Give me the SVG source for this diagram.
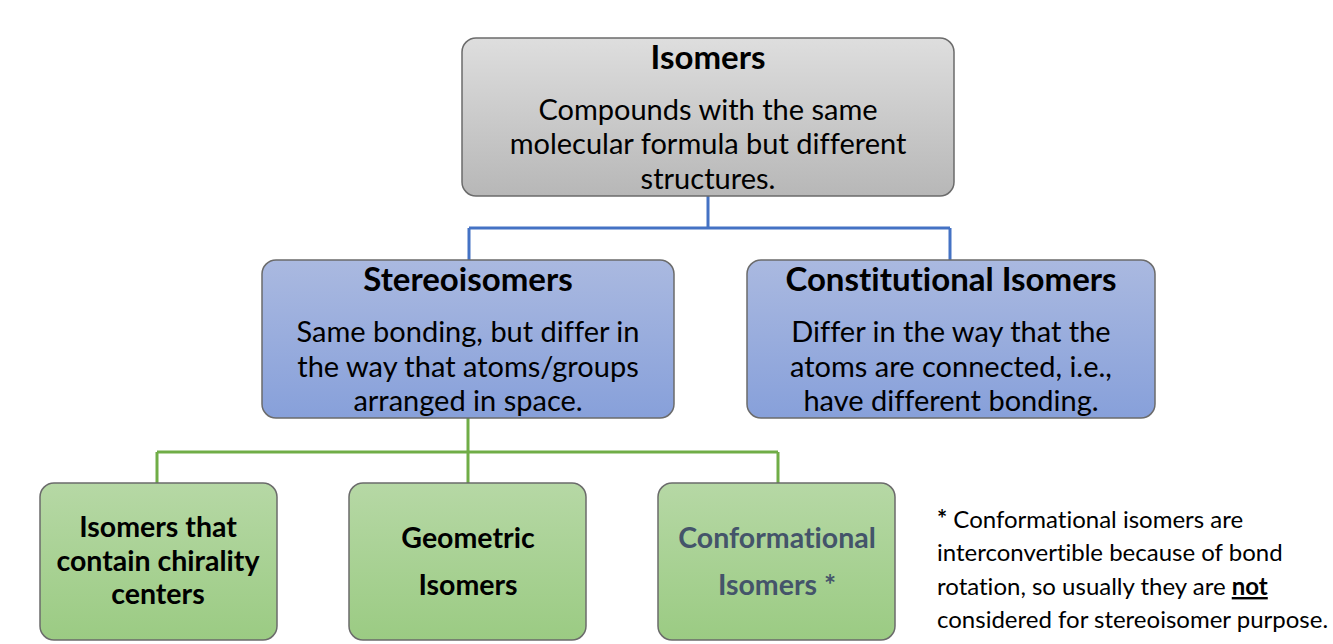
<svg xmlns="http://www.w3.org/2000/svg" width="1333" height="644" viewBox="0 0 1333 644">
<defs>
<linearGradient id="gGray" x1="0" y1="0" x2="0" y2="1"><stop offset="0" stop-color="#dedede"/><stop offset="1" stop-color="#b7b7b7"/></linearGradient>
<linearGradient id="gBlue" x1="0" y1="0" x2="0" y2="1"><stop offset="0" stop-color="#aab9e0"/><stop offset="1" stop-color="#87a0da"/></linearGradient>
<linearGradient id="gGreen" x1="0" y1="0" x2="0" y2="1"><stop offset="0" stop-color="#b6d8a5"/><stop offset="1" stop-color="#9bcb83"/></linearGradient>
</defs>
<style>
text{font-family:Lato,"Open Sans","Liberation Sans",sans-serif;fill:#000;text-anchor:middle;font-variant-ligatures:none}
.box{stroke:#6b6b6b;stroke-width:1.5}
.t{font-weight:bold;font-size:33px}
.d{font-size:29px}
.g{font-weight:bold;font-size:28.5px}
.note{font-size:24px;text-anchor:start}
.blue{fill:none;stroke:#4472c4;stroke-width:3}
.green{fill:none;stroke:#70ad47;stroke-width:3}
</style>
<rect width="1333" height="644" fill="#fff"/>
<g id="connectors">
<path class="blue" d="M708 196V228M469 228H950M469 228V260M950 228V260"/>
<path class="green" d="M468 418V452M157 452H778M157 452V483M468 452V483M778 452V483"/>
</g>
<g id="isomers">
<rect class="box" x="462" y="38" width="492" height="158" rx="14" fill="url(#gGray)"/>
<text class="t" x="708" y="69">Isomers</text>
<text class="d" x="708" y="120">Compounds with the same</text>
<text class="d" x="708" y="154">molecular formula but different</text>
<text class="d" x="708" y="189">structures.</text>
</g>
<g id="stereoisomers">
<rect class="box" x="262" y="260" width="412" height="158" rx="14" fill="url(#gBlue)"/>
<text class="t" x="468" y="291">Stereoisomers</text>
<text class="d" x="468" y="342">Same bonding, but differ in</text>
<text class="d" x="468" y="377">the way that atoms/groups</text>
<text class="d" x="468" y="411">arranged in space.</text>
</g>
<g id="constitutional">
<rect class="box" x="747" y="260" width="408" height="158" rx="14" fill="url(#gBlue)"/>
<text class="t" x="951" y="291">Constitutional Isomers</text>
<text class="d" x="951" y="342">Differ in the way that the</text>
<text class="d" x="951" y="377">atoms are connected, i.e.,</text>
<text class="d" x="951" y="411">have different bonding.</text>
</g>
<g id="chirality">
<rect class="box" x="40" y="483" width="237" height="157" rx="14" fill="url(#gGreen)"/>
<text class="g" x="158" y="537">Isomers that</text>
<text class="g" x="158" y="571">contain chirality</text>
<text class="g" x="158" y="604">centers</text>
</g>
<g id="geometric">
<rect class="box" x="349" y="483" width="237" height="157" rx="14" fill="url(#gGreen)"/>
<text class="g" x="468" y="548">Geometric</text>
<text class="g" x="468" y="595">Isomers</text>
</g>
<g id="conformational">
<rect class="box" x="658" y="483" width="237" height="157" rx="14" fill="url(#gGreen)"/>
<text class="g" x="777" y="548" style="fill:#44546a">Conformational</text>
<text class="g" x="777" y="595" style="fill:#44546a">Isomers *</text>
</g>
<g id="note">
<text class="note" x="937" y="528"><tspan font-weight="bold">*</tspan> Conformational isomers are</text>
<text class="note" x="937" y="561">interconvertible because of bond</text>
<text class="note" x="937" y="595">rotation, so usually they are <tspan font-weight="bold" text-decoration="underline">not</tspan></text>
<text class="note" x="937" y="628">considered for stereoisomer purpose.</text>
</g>
</svg>
